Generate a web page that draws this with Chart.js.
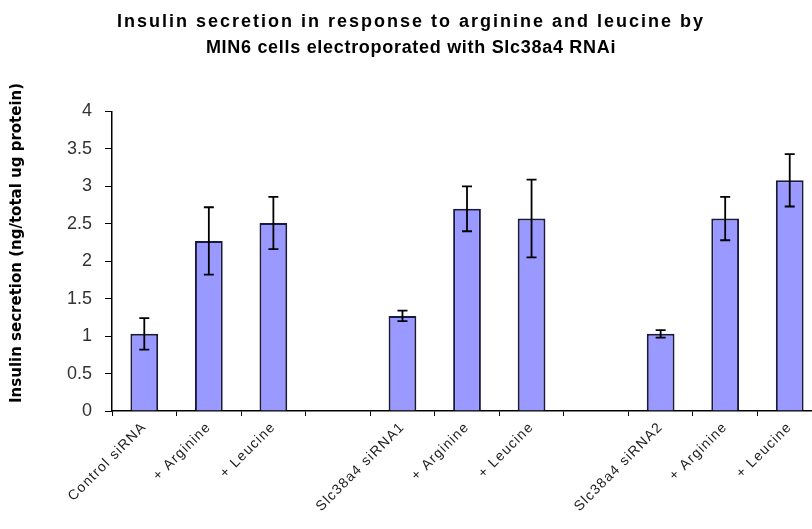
<!DOCTYPE html>
<html>
<head>
<meta charset="utf-8">
<script src="https://cdn.jsdelivr.net/npm/chart.js@4/dist/chart.umd.min.js"></script>
<style>
html,body{margin:0;padding:0;background:#fff;overflow:hidden;}
#wrap{position:relative;width:824px;height:529px;}
</style>
</head>
<body>
<div id="wrap"><canvas id="c"></canvas></div>
<script>
const categories = ["Control siRNA", "+ Arginine", "+ Leucine", "", "Slc38a4 siRNA1", "+ Arginine", "+ Leucine", "", "Slc38a4 siRNA2", "+ Arginine", "+ Leucine"];
const secretion = [1.03, 2.27, 2.51, null, 1.27, 2.70, 2.57, null, 1.03, 2.57, 3.08];
const errors = [0.21, 0.45, 0.35, null, 0.07, 0.30, 0.52, null, 0.05, 0.29, 0.35];
const yTicks = [0, 0.5, 1, 1.5, 2, 2.5, 3, 3.5, 4];
const titleLine1 = "Insulin secretion in response to arginine and leucine by";
const titleLine2 = "MIN6 cells electroporated with Slc38a4 RNAi";
const yTitle = "Insulin secretion (ng/total ug protein)";

function withSpacing(obj, method, spacing) {
  if (!obj || obj['_ls_' + method]) return;
  const orig = obj[method];
  obj[method] = function (...args) {
    const ctx = this.ctx;
    const prev = ctx.letterSpacing;
    ctx.letterSpacing = spacing;
    const r = orig.apply(this, args);
    ctx.letterSpacing = prev || '0px';
    return r;
  };
  obj['_ls_' + method] = true;
}

const spacingPlugin = {
  id: 'spacing',
  afterLayout(chart) {
    withSpacing(chart.titleBlock, 'draw', '2px');
    const sub = chart.boxes.find(b => b !== chart.titleBlock && b.options && b.options.text === titleLine2);
    withSpacing(sub, 'draw', '0.7px');
    withSpacing(chart.scales.x, 'drawLabels', '1.2px');
  }
};

const errorBars = {
  id: 'errorBars',
  afterDatasetsDraw(chart) {
    const ctx = chart.ctx;
    const meta = chart.getDatasetMeta(0);
    const ys = chart.scales.y;
    ctx.save();
    ctx.strokeStyle = '#000';
    ctx.lineWidth = 1.8;
    meta.data.forEach((bar, i) => {
      const v = secretion[i], e = errors[i];
      if (v == null || e == null) return;
      const x = bar.x;
      const yt = ys.getPixelForValue(v + e);
      const yb = ys.getPixelForValue(v - e);
      ctx.beginPath();
      ctx.moveTo(x, yt); ctx.lineTo(x, yb);
      ctx.moveTo(x - 5, yt); ctx.lineTo(x + 5, yt);
      ctx.moveTo(x - 5, yb); ctx.lineTo(x + 5, yb);
      ctx.stroke();
    });
    ctx.restore();
  }
};

new Chart(document.getElementById('c'), {
  type: 'bar',
  data: {
    labels: categories,
    datasets: [{
      data: secretion,
      backgroundColor: '#9999ff',
      borderColor: '#1a1a40',
      borderWidth: 2,
      barPercentage: 0.43,
      categoryPercentage: 1.0
    }]
  },
  options: {
    responsive: true,
    maintainAspectRatio: false,
    animation: false,
    layout: { padding: { left: 0, right: 2, top: 9, bottom: 0 } },
    plugins: {
      legend: { display: false },
      tooltip: { enabled: false },
      title: {
        display: true,
        text: titleLine1,
        color: '#000',
        font: { family: 'Liberation Sans', size: 18, weight: 'bold', lineHeight: 1.4 },
        padding: { top: 0, bottom: 1 }
      },
      subtitle: {
        display: true,
        text: titleLine2,
        color: '#000',
        font: { family: 'Liberation Sans', size: 18, weight: 'bold', lineHeight: 1.4 },
        padding: { top: 0, bottom: 51 }
      }
    },
    scales: {
      x: {
        afterFit(scale) { scale.height = 118; },
        grid: { display: true, drawOnChartArea: false, drawTicks: true, tickLength: 5, color: '#000', offset: true },
        border: { display: true, color: '#000', width: 1.5 },
        ticks: {
          color: '#222',
          font: { family: 'Liberation Sans', size: 14 },
          maxRotation: 45, minRotation: 45,
          autoSkip: false,
          padding: 3
        }
      },
      y: {
        min: 0, max: 4,
        afterBuildTicks(axis) { axis.ticks = yTicks.map(v => ({ value: v })); },
        grid: { display: true, drawOnChartArea: false, drawTicks: true, tickLength: 7, color: '#000' },
        border: { display: true, color: '#000', width: 1.5 },
        ticks: {
          color: '#333',
          font: { family: 'Liberation Sans', size: 18 },
          padding: 13,
          callback: (v) => String(v)
        },
        title: {
          display: true,
          text: "       " + yTitle,
          color: '#000',
          font: { family: 'DejaVu Sans', size: 15, weight: 'bold' },
          padding: { top: 8, bottom: 28 }
        }
      }
    }
  },
  plugins: [errorBars, spacingPlugin]
});
</script>
</body>
</html>
